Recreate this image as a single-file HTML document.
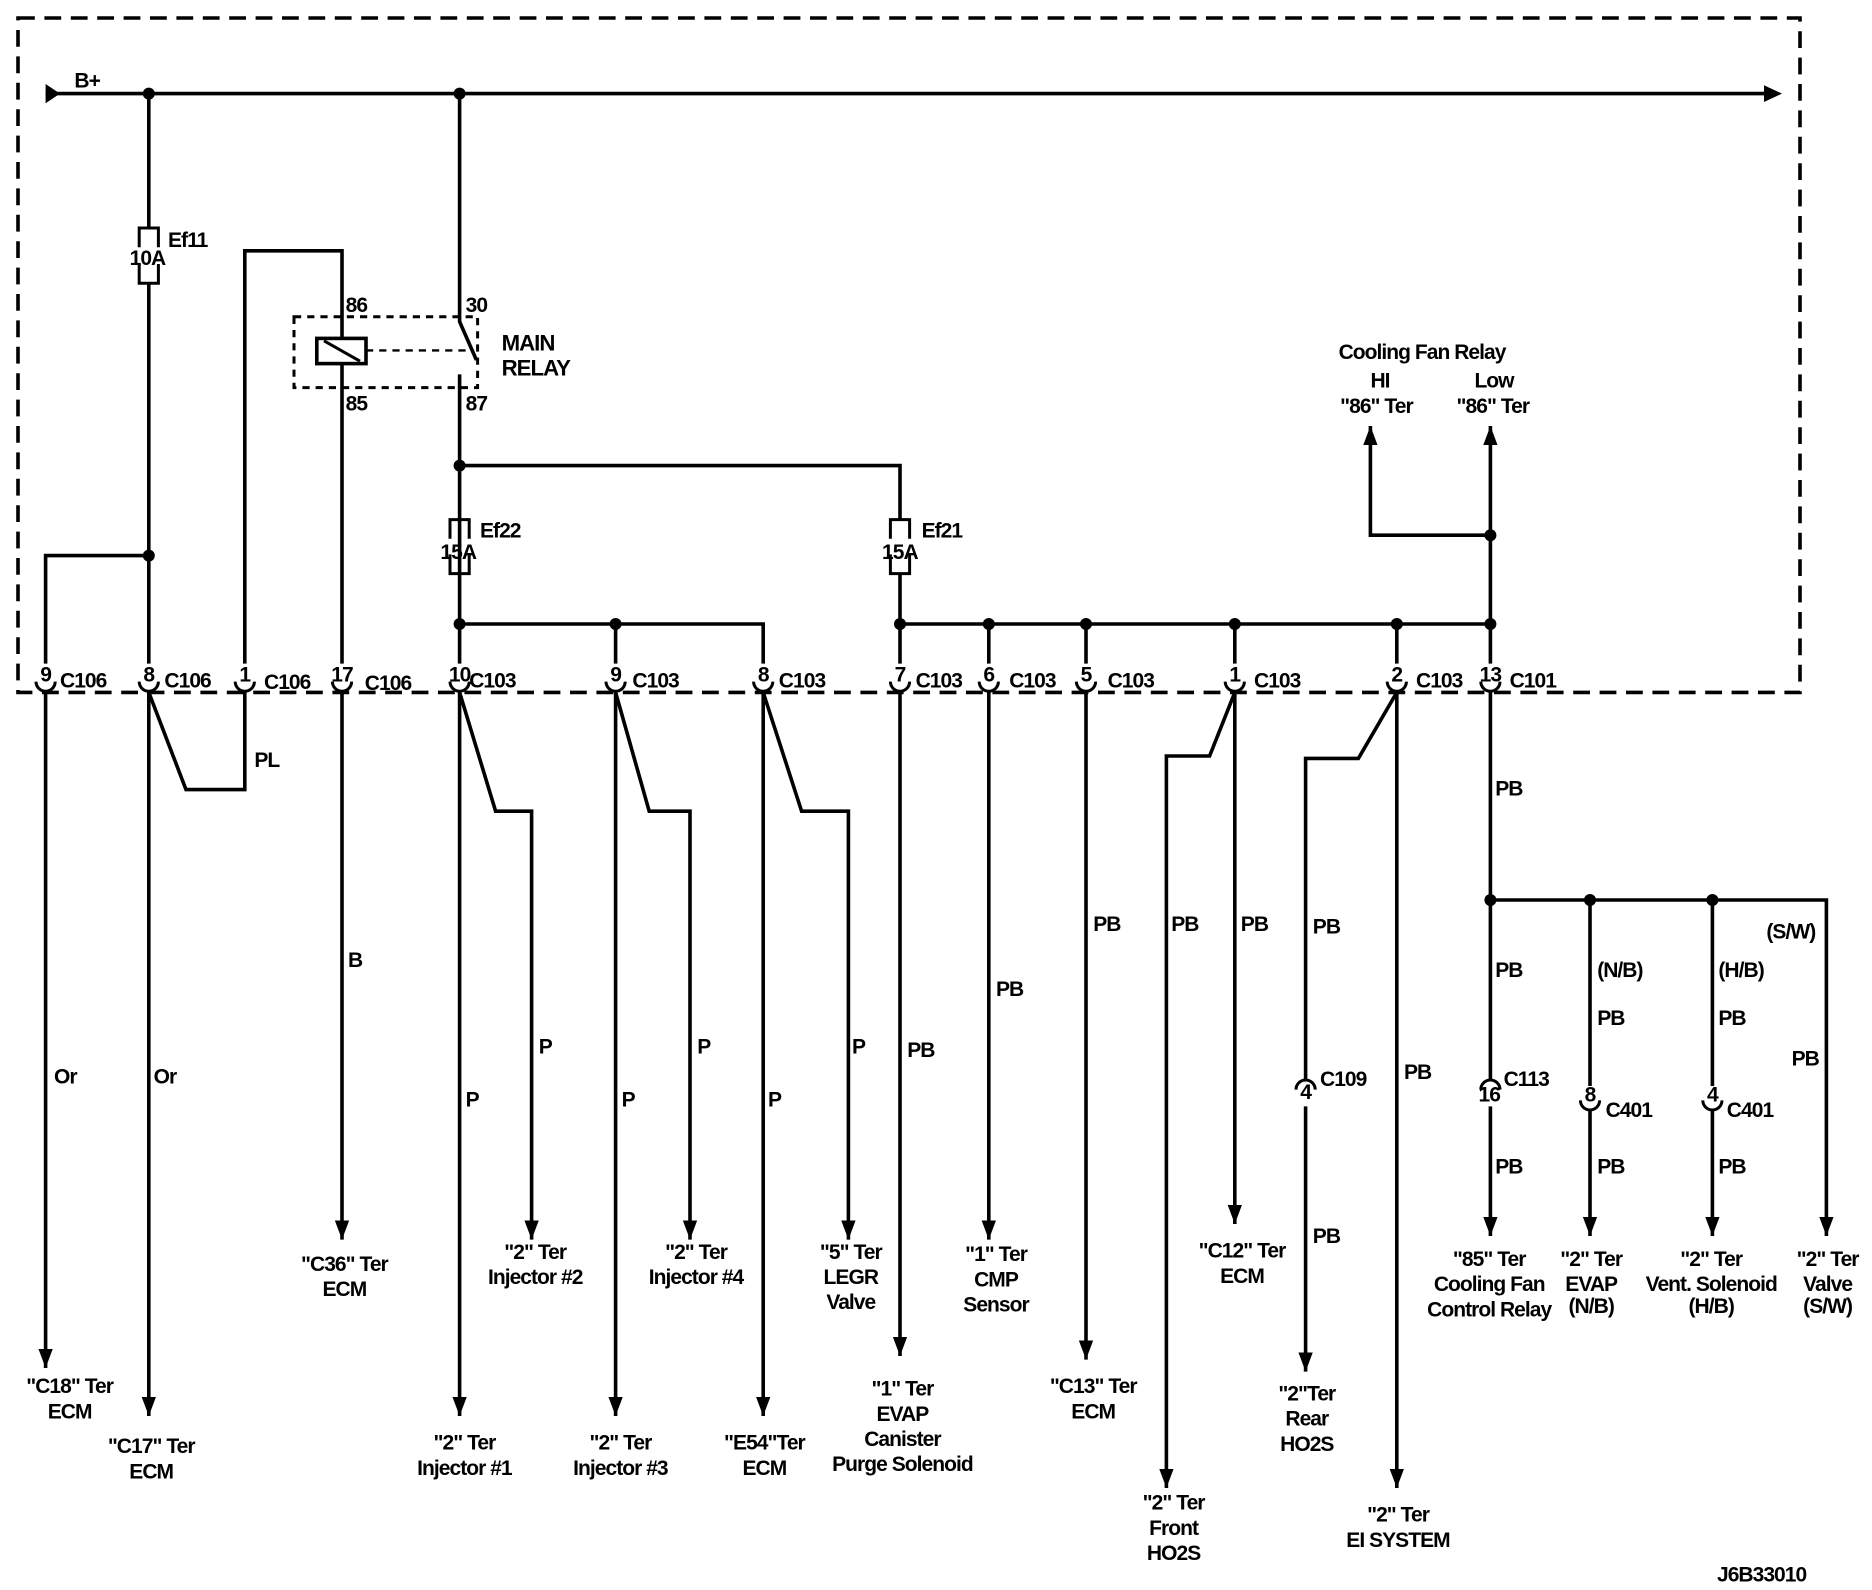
<!DOCTYPE html>
<html><head><meta charset="utf-8"><style>
html,body{margin:0;padding:0;background:#fff;}
svg{display:block}
text{font-family:"Liberation Sans",Arial,sans-serif;font-size:17.5px;font-weight:bold;letter-spacing:-0.8px;fill:#000}
.m{text-anchor:middle}
</style></head><body>
<svg width="1872" height="1590" viewBox="0 0 1560 1325" xmlns="http://www.w3.org/2000/svg">
<defs>
<marker id="a" viewBox="0 0 16 12" refX="16" refY="6" markerWidth="16" markerHeight="12" markerUnits="userSpaceOnUse" orient="auto-start-reverse"><path d="M0,0 L16,6 L0,12 Z"/></marker>
</defs>
<g fill="none" stroke="#000" stroke-width="3">
<path d="M15,15 H1500 V577 H15 Z" stroke-dasharray="14,8"/>
<path d="M245,264 H398 V323 H245 Z" stroke-dasharray="6,5" stroke-width="2.5"/>
<line x1="38" y1="78" x2="1472" y2="78"/>
<line x1="124" y1="78" x2="124" y2="190"/>
<path d="M116,206 V190 H132 V206 M116,220 V236 H132 V220" stroke-width="2.5"/>
<line x1="124" y1="236" x2="124" y2="553"/>
<path d="M124,463 H38 V553"/>
<path d="M204,553 V209 H285 V282"/>
<rect x="264" y="282" width="41" height="21" stroke-width="3"/>
<line x1="270" y1="284" x2="300" y2="301" stroke-width="2.5"/>
<line x1="305" y1="292" x2="388" y2="292" stroke-dasharray="6,5" stroke-width="2"/>
<line x1="285" y1="303" x2="285" y2="553"/>
<path d="M383,78 V268 L397,300"/>
<path d="M383,312 V478"/>
<path d="M383,388 H750 V433"/>
<path d="M375,449 V433 H391 V449 M375,462 V478 H391 V462" stroke-width="2.5"/>
<path d="M742,449 V433 H758 V449 M742,462 V478 H758 V462" stroke-width="2.5"/>
<line x1="383" y1="478" x2="383" y2="553"/>
<line x1="750" y1="478" x2="750" y2="553"/>
<path d="M383,520 H636 V553"/>
<line x1="513" y1="520" x2="513" y2="553"/>
<line x1="750" y1="520" x2="1242" y2="520"/>
<line x1="824" y1="520" x2="824" y2="553"/>
<line x1="905" y1="520" x2="905" y2="553"/>
<line x1="1029" y1="520" x2="1029" y2="553"/>
<line x1="1164" y1="520" x2="1164" y2="553"/>
<line x1="1242" y1="355" x2="1242" y2="553" marker-start="url(#a)"/>
<path d="M1242,446 H1142 V355" marker-end="url(#a)"/>
<g stroke-width="2.5">
<path d="M30,568 A8,8 0 0 0 46,568"/><path d="M116,568 A8,8 0 0 0 132,568"/>
<path d="M196,568 A8,8 0 0 0 212,568"/><path d="M277,568 A8,8 0 0 0 293,568"/>
<path d="M375,568 A8,8 0 0 0 391,568"/><path d="M505,568 A8,8 0 0 0 521,568"/>
<path d="M628,568 A8,8 0 0 0 644,568"/><path d="M742,568 A8,8 0 0 0 758,568"/>
<path d="M816,568 A8,8 0 0 0 832,568"/><path d="M897,568 A8,8 0 0 0 913,568"/>
<path d="M1021,568 A8,8 0 0 0 1037,568"/><path d="M1156,568 A8,8 0 0 0 1172,568"/>
<path d="M1234,568 A8,8 0 0 0 1250,568"/>
<path d="M1317,917 A8,8 0 0 0 1333,917"/><path d="M1419,917 A8,8 0 0 0 1435,917"/>
<path d="M1080,908 A8,8 0 0 1 1096,908"/><path d="M1234,908 A8,8 0 0 1 1250,908"/>
</g>
<line x1="38" y1="576" x2="38" y2="1140" marker-end="url(#a)"/>
<line x1="124" y1="576" x2="124" y2="1180" marker-end="url(#a)"/>
<path d="M124,577 L155,658 H204 V576"/>
<line x1="285" y1="576" x2="285" y2="1033" marker-end="url(#a)"/>
<line x1="383" y1="576" x2="383" y2="1180" marker-end="url(#a)"/>
<path d="M383,577 L413,676 H443 V1033" marker-end="url(#a)"/>
<line x1="513" y1="576" x2="513" y2="1180" marker-end="url(#a)"/>
<path d="M513,577 L541,676 H575 V1033" marker-end="url(#a)"/>
<line x1="636" y1="576" x2="636" y2="1180" marker-end="url(#a)"/>
<path d="M636,577 L668,676 H707 V1033" marker-end="url(#a)"/>
<line x1="750" y1="576" x2="750" y2="1130" marker-end="url(#a)"/>
<line x1="824" y1="576" x2="824" y2="1033" marker-end="url(#a)"/>
<line x1="905" y1="576" x2="905" y2="1133" marker-end="url(#a)"/>
<line x1="1029" y1="576" x2="1029" y2="1020" marker-end="url(#a)"/>
<path d="M1029,577 L1008,630 H972 V1240" marker-end="url(#a)"/>
<line x1="1164" y1="576" x2="1164" y2="1240" marker-end="url(#a)"/>
<path d="M1164,577 L1132,632 H1088 V900"/>
<line x1="1088" y1="922" x2="1088" y2="1143" marker-end="url(#a)"/>
<line x1="1242" y1="576" x2="1242" y2="900"/>
<line x1="1242" y1="922" x2="1242" y2="1030" marker-end="url(#a)"/>
<path d="M1242,750 H1522 V1030" marker-end="url(#a)"/>
<line x1="1325" y1="750" x2="1325" y2="905"/>
<line x1="1325" y1="925" x2="1325" y2="1030" marker-end="url(#a)"/>
<line x1="1427" y1="750" x2="1427" y2="905"/>
<line x1="1427" y1="925" x2="1427" y2="1030" marker-end="url(#a)"/>
</g>
<path d="M38,70 L50,78 L38,86 Z"/>
<path d="M1470,71 L1485,78 L1470,85 Z"/>
<g>
<circle cx="124" cy="78" r="5"/><circle cx="383" cy="78" r="5"/><circle cx="124" cy="463" r="5"/>
<circle cx="383" cy="388" r="5"/><circle cx="383" cy="520" r="5"/><circle cx="513" cy="520" r="5"/>
<circle cx="750" cy="520" r="5"/><circle cx="824" cy="520" r="5"/><circle cx="905" cy="520" r="5"/>
<circle cx="1029" cy="520" r="5"/><circle cx="1164" cy="520" r="5"/><circle cx="1242" cy="520" r="5"/>
<circle cx="1242" cy="446" r="5"/><circle cx="1242" cy="750" r="5"/><circle cx="1325" cy="750" r="5"/><circle cx="1427" cy="750" r="5"/>
</g>
<text x="62" y="73">B+</text>
<text x="108" y="221">10A</text><text x="140" y="206">Ef11</text>
<text x="288" y="260">86</text><text x="388" y="260">30</text>
<text x="288" y="342">85</text><text x="388" y="342">87</text>
<text x="418" y="292" style="font-size:18.5px">MAIN</text><text x="418" y="313" style="font-size:18.5px">RELAY</text>
<text x="367" y="466">15A</text><text x="400" y="448">Ef22</text>
<text x="735" y="466">15A</text><text x="768" y="448">Ef21</text>
<text class="m" x="1185" y="299">Cooling Fan Relay</text>
<text class="m" x="1150" y="323">HI</text><text class="m" x="1245" y="323">Low</text>
<text class="m" x="1147" y="344">"86" Ter</text><text class="m" x="1244" y="344">"86" Ter</text>
<text class="m" x="38" y="568">9</text><text x="50" y="573">C106</text>
<text class="m" x="124" y="568">8</text><text x="137" y="573">C106</text>
<text class="m" x="204" y="568">1</text><text x="220" y="574">C106</text>
<text class="m" x="285" y="568">17</text><text x="304" y="575">C106</text>
<text class="m" x="383" y="568">10</text><text x="391" y="573">C103</text>
<text class="m" x="513" y="568">9</text><text x="527" y="573">C103</text>
<text class="m" x="636" y="568">8</text><text x="649" y="573">C103</text>
<text class="m" x="750" y="568">7</text><text x="763" y="573">C103</text>
<text class="m" x="824" y="568">6</text><text x="841" y="573">C103</text>
<text class="m" x="905" y="568">5</text><text x="923" y="573">C103</text>
<text class="m" x="1029" y="568">1</text><text x="1045" y="573">C103</text>
<text class="m" x="1164" y="568">2</text><text x="1180" y="573">C103</text>
<text class="m" x="1242" y="568">13</text><text x="1258" y="573">C101</text>
<text x="1100" y="905">C109</text><text class="m" x="1088" y="916">4</text>
<text x="1253" y="905">C113</text><text class="m" x="1241" y="918">16</text>
<text class="m" x="1325" y="918">8</text><text x="1338" y="931">C401</text>
<text class="m" x="1427" y="918">4</text><text x="1439" y="931">C401</text>
<text x="212" y="639">PL</text>
<text x="45" y="903">Or</text><text x="128" y="903">Or</text>
<text x="290" y="806">B</text>
<text x="388" y="922">P</text><text x="449" y="878">P</text>
<text x="518" y="922">P</text><text x="581" y="878">P</text>
<text x="640" y="922">P</text><text x="710" y="878">P</text>
<text x="756" y="881">PB</text><text x="830" y="830">PB</text>
<text x="911" y="776">PB</text><text x="976" y="776">PB</text><text x="1034" y="776">PB</text>
<text x="1094" y="778">PB</text><text x="1170" y="899">PB</text><text x="1094" y="1036">PB</text>
<text x="1246" y="663">PB</text><text x="1246" y="814">PB</text>
<text x="1331" y="814">(N/B)</text><text x="1331" y="854">PB</text>
<text x="1432" y="814">(H/B)</text><text x="1432" y="854">PB</text>
<text x="1472" y="782">(S/W)</text><text x="1493" y="888">PB</text>
<text x="1246" y="978">PB</text><text x="1331" y="978">PB</text><text x="1432" y="978">PB</text>
<text class="m" x="58" y="1161">"C18" Ter</text><text class="m" x="58" y="1182">ECM</text>
<text class="m" x="126" y="1211">"C17" Ter</text><text class="m" x="126" y="1232">ECM</text>
<text class="m" x="287" y="1059">"C36" Ter</text><text class="m" x="287" y="1080">ECM</text>
<text class="m" x="446" y="1049">"2" Ter</text><text class="m" x="446" y="1070">Injector #2</text>
<text class="m" x="387" y="1208">"2" Ter</text><text class="m" x="387" y="1229">Injector #1</text>
<text class="m" x="580" y="1049">"2" Ter</text><text class="m" x="580" y="1070">Injector #4</text>
<text class="m" x="517" y="1208">"2" Ter</text><text class="m" x="517" y="1229">Injector #3</text>
<text class="m" x="709" y="1049">"5" Ter</text><text class="m" x="709" y="1070">LEGR</text><text class="m" x="709" y="1091">Valve</text>
<text class="m" x="637" y="1208">"E54"Ter</text><text class="m" x="637" y="1229">ECM</text>
<text class="m" x="752" y="1163">"1" Ter</text><text class="m" x="752" y="1184">EVAP</text><text class="m" x="752" y="1205">Canister</text><text class="m" x="752" y="1226">Purge Solenoid</text>
<text class="m" x="830" y="1051">"1" Ter</text><text class="m" x="830" y="1072">CMP</text><text class="m" x="830" y="1093">Sensor</text>
<text class="m" x="911" y="1161">"C13" Ter</text><text class="m" x="911" y="1182">ECM</text>
<text class="m" x="1035" y="1048">"C12" Ter</text><text class="m" x="1035" y="1069">ECM</text>
<text class="m" x="978" y="1258">"2" Ter</text><text class="m" x="978" y="1279">Front</text><text class="m" x="978" y="1300">HO2S</text>
<text class="m" x="1089" y="1167">"2"Ter</text><text class="m" x="1089" y="1188">Rear</text><text class="m" x="1089" y="1209">HO2S</text>
<text class="m" x="1165" y="1268">"2" Ter</text><text class="m" x="1165" y="1289">EI SYSTEM</text>
<text class="m" x="1241" y="1055">"85" Ter</text><text class="m" x="1241" y="1076">Cooling Fan</text><text class="m" x="1241" y="1097">Control Relay</text>
<text class="m" x="1326" y="1055">"2" Ter</text><text class="m" x="1326" y="1076">EVAP</text><text class="m" x="1326" y="1094">(N/B)</text>
<text class="m" x="1426" y="1055">"2" Ter</text><text class="m" x="1426" y="1076">Vent. Solenoid</text><text class="m" x="1426" y="1094">(H/B)</text>
<text class="m" x="1523" y="1055">"2" Ter</text><text class="m" x="1523" y="1076">Valve</text><text class="m" x="1523" y="1094">(S/W)</text>
<text class="m" x="1468" y="1318">J6B33010</text>
</svg>
</body></html>
